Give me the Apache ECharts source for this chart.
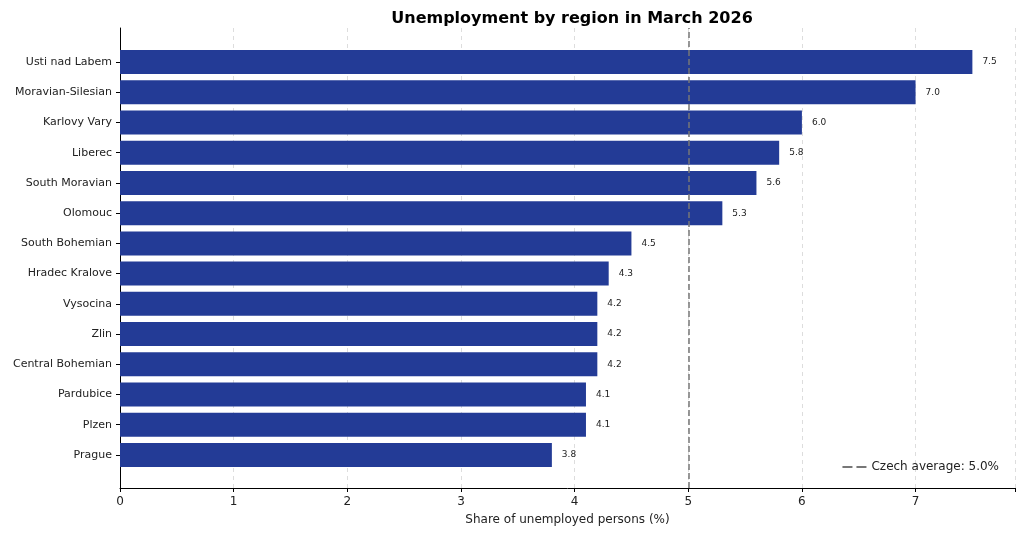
<!DOCTYPE html>
<html>
<head>
<meta charset="utf-8">
<script src="https://cdn.jsdelivr.net/npm/echarts@6/dist/echarts.min.js"></script>
<style>html,body{margin:0;padding:0;background:#fff}#main{width:1024px;height:536px}</style>
</head>
<body>
<div id="main"></div>
<script>
var regions = ['Prague', 'Plzen', 'Pardubice', 'Central Bohemian', 'Zlin', 'Vysocina', 'Hradec Kralove',
  'South Bohemian', 'Olomouc', 'South Moravian', 'Liberec', 'Karlovy Vary', 'Moravian-Silesian', 'Usti nad Labem'];
var rates = [3.8, 4.1, 4.1, 4.2, 4.2, 4.2, 4.3, 4.5, 5.3, 5.6, 5.8, 6.0, 7.0, 7.5];
var czechAverage = 5.0;
var xTicks = [0, 1, 2, 3, 4, 5, 6, 7];

var myChart = echarts.init(document.getElementById('main'));
var font = 'DejaVu Sans';
var option = {
  textStyle: { fontFamily: font },
  title: {
    text: 'Unemployment by region in March 2026',
    left: 567, top: 6, textAlign: 'center',
    textStyle: { fontSize: 16, fontWeight: 'bold', color: '#000', fontFamily: font }
  },
  legend: {
    right: 20, bottom: 58,
    itemWidth: 24, itemHeight: 2,
    textStyle: { fontSize: 12, color: '#222', fontFamily: font },
    data: [{ name: 'Czech average: 5.0%', icon: 'path://M0,0H10V2H0ZM14,0H24V2H14Z', itemStyle: { color: '#777' } }]
  },
  grid: [
    { left: 120, right: 9, top: 47, bottom: 66 },
    { left: 120, right: 9, top: 28, bottom: 48 }
  ],
  xAxis: [
    { gridIndex: 0, type: 'value', min: 0, max: 7.875, show: false },
    {
      gridIndex: 1, type: 'value', min: 0, max: 7.875, interval: 1,
      name: 'Share of unemployed persons (%)', nameLocation: 'middle', nameGap: 26,
      nameTextStyle: { fontSize: 12, color: '#222' },
      axisLine: { lineStyle: { color: '#000' } },
      axisTick: { show: true, length: 4, lineStyle: { color: '#000' } },
      axisLabel: { fontSize: 12, color: '#222', formatter: function (v) { return xTicks.indexOf(v) >= 0 ? v : ''; } },
      splitLine: { show: true, lineStyle: { type: [4, 4], color: '#ddd' } }
    }
  ],
  yAxis: [
    {
      gridIndex: 0, type: 'category', data: regions,
      axisLine: { show: false },
      axisTick: { show: true, alignWithLabel: true, length: 4, lineStyle: { color: '#000' } },
      axisLabel: { fontSize: 11, color: '#222', margin: 8 }
    },
    {
      gridIndex: 1, type: 'value', min: 0, max: 1,
      axisLine: { show: true, lineStyle: { color: '#000' } },
      axisTick: { show: false }, axisLabel: { show: false }, splitLine: { show: false }
    }
  ],
  series: [
    {
      type: 'bar', xAxisIndex: 0, yAxisIndex: 0, data: rates, barWidth: 24,
      itemStyle: { color: '#233b96' },
      label: { show: true, position: 'right', distance: 10, fontSize: 9, color: '#222',
        formatter: function (p) { return p.value.toFixed(1); } }
    },
    {
      name: 'Czech average: 5.0%', type: 'line', xAxisIndex: 1, yAxisIndex: 1, data: [],
      lineStyle: { color: '#777', type: 'dashed' },
      markLine: {
        symbol: 'none', silent: true, label: { show: false },
        lineStyle: { color: '#777', type: [6, 3], width: 1.5 },
        data: [{ xAxis: czechAverage }]
      }
    }
  ]
};
myChart.setOption(option);
</script>
</body>
</html>
